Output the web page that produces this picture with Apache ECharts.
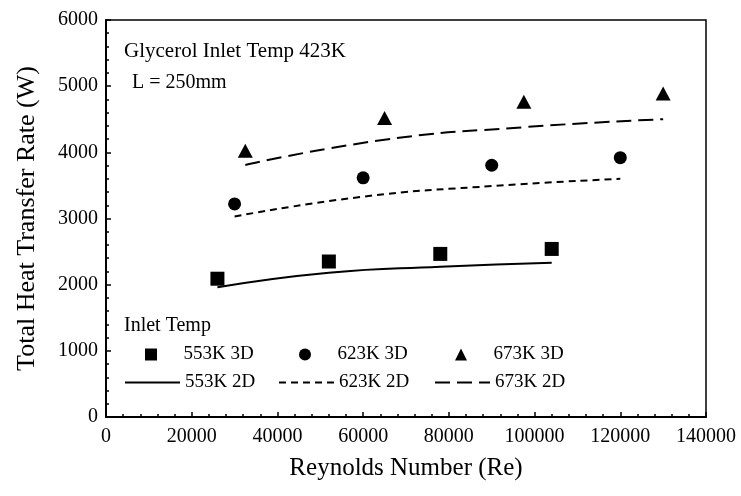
<!DOCTYPE html>
<html>
<head>
<meta charset="utf-8">
<script src="https://cdn.jsdelivr.net/npm/echarts@6/dist/echarts.min.js"></script>
<style>
  html, body { margin: 0; padding: 0; background: #fff; }
  #main { width: 741px; height: 496px; }
</style>
</head>
<body>
<div id="main"></div>
<script>
// 3D simulation points
const re553 = [26000, 52000, 78000, 104000];
const q553_3d = [2090, 2350, 2465, 2540];
const re623 = [30000, 60000, 90000, 120000];
const q623_3d = [3220, 3615, 3805, 3920];
const re673 = [32500, 65000, 97500, 130000];
const q673_3d = [4025, 4520, 4765, 4890];

// 2D simulation lines
const q553_2d = [1960, 2180, 2270, 2330];
const q623_2d = [3030, 3330, 3490, 3600];
const q673_2d = [3810, 4190, 4380, 4500];

const seriesNames = ["553K 3D", "623K 3D", "673K 3D", "553K 2D", "623K 2D", "673K 2D"];

function pairs(xs, ys) {
  return xs.map((x, i) => [x, ys[i]]);
}

const font = "Liberation Serif";
const chart = echarts.init(document.getElementById("main"));

// legend icons for the markers
const icons = [
  "path://M0,0L10,0L10,10L0,10Z",
  "circle",
  "path://M5,0L10,10L0,10Z"
];

// one legend per entry so the two rows line up in columns
const lineCols = [124, 278, 434];
const markCols = [145, 299, 455];
const legendRows = [345, 373];
const legends = seriesNames.map((name, i) => {
  const isLine = i >= 3;
  return {
    data: [isLine ? name : { name: name, icon: icons[i] }],
    left: isLine ? lineCols[i % 3] : markCols[i % 3],
    top: legendRows[Math.floor(i / 3)],
    padding: 0,
    itemWidth: 55,
    itemHeight: isLine ? 10 : 12,
    itemGap: 0,
    selectedMode: false,
    itemStyle: isLine ? { opacity: 0 } : { opacity: 1 },
    textStyle: { fontFamily: font, fontSize: 19, color: "#000" }
  };
});

const lineStyle = (type) => ({ color: "#000", width: 2, type: type });
const dot = { color: "#000", opacity: 1 };

const option = {
  animation: false,
  backgroundColor: "#fff",
  title: [
    {
      text: "Glycerol Inlet Temp 423K",
      left: 119, top: 36,
      textStyle: { fontFamily: font, fontSize: 21, fontWeight: "normal", color: "#000" }
    },
    {
      text: "L = 250mm",
      left: 127, top: 68,
      textStyle: { fontFamily: font, fontSize: 20, fontWeight: "normal", color: "#000" }
    },
    {
      text: "Inlet Temp",
      left: 119, top: 311,
      textStyle: { fontFamily: font, fontSize: 20, fontWeight: "normal", color: "#000" }
    }
  ],
  legend: legends,
  grid: {
    left: 106, right: 35, top: 20, bottom: 79,
    show: true, borderColor: "#000", borderWidth: 1.5
  },
  xAxis: {
    type: "value",
    min: 0, max: 140000, interval: 20000,
    name: "Reynolds Number (Re)",
    nameLocation: "middle",
    nameGap: 39,
    nameTextStyle: { fontFamily: font, fontSize: 25, color: "#000" },
    axisLine: { onZero: false, lineStyle: { color: "#000", width: 2 } },
    axisTick: { inside: true, length: 5, lineStyle: { color: "#000", width: 1.5 } },
    minorTick: { show: true, splitNumber: 5, length: 3, lineStyle: { color: "#000", width: 1.5 } },
    splitLine: { show: false },
    axisLabel: { fontFamily: font, fontSize: 20, color: "#000", margin: 10, formatter: (v) => String(v) }
  },
  yAxis: {
    type: "value",
    min: 0, max: 6000, interval: 1000,
    name: "Total Heat Transfer Rate (W)",
    nameLocation: "middle",
    nameGap: 66,
    nameTextStyle: { fontFamily: font, fontSize: 26, color: "#000" },
    axisLine: { show: true, lineStyle: { color: "#000", width: 2 } },
    axisTick: { inside: true, length: 5, lineStyle: { color: "#000", width: 1.5 } },
    minorTick: { show: true, splitNumber: 5, length: 3, lineStyle: { color: "#000", width: 1.5 } },
    splitLine: { show: false },
    axisLabel: { fontFamily: font, fontSize: 20, color: "#000", margin: 8, formatter: (v) => String(v) }
  },
  series: [
    {
      name: "553K 3D", type: "scatter", symbol: "rect", symbolSize: 14,
      itemStyle: dot, emphasis: { disabled: true }, data: pairs(re553, q553_3d)
    },
    {
      name: "623K 3D", type: "scatter", symbol: "circle", symbolSize: 13,
      itemStyle: dot, emphasis: { disabled: true }, data: pairs(re623, q623_3d)
    },
    {
      name: "673K 3D", type: "scatter", symbol: "triangle", symbolSize: [15, 14],
      itemStyle: dot, emphasis: { disabled: true }, data: pairs(re673, q673_3d)
    },
    {
      name: "553K 2D", type: "line", symbol: "none", smooth: true,
      lineStyle: lineStyle("solid"), itemStyle: dot,
      data: pairs(re553, q553_2d)
    },
    {
      name: "623K 2D", type: "line", symbol: "none", smooth: true,
      lineStyle: lineStyle([7, 5]), itemStyle: dot,
      data: pairs(re623, q623_2d)
    },
    {
      name: "673K 2D", type: "line", symbol: "none", smooth: true,
      lineStyle: lineStyle([15, 7]), itemStyle: dot,
      data: pairs(re673, q673_2d)
    }
  ]
};

chart.setOption(option);
window.onresize = chart.resize;
</script>
</body>
</html>
